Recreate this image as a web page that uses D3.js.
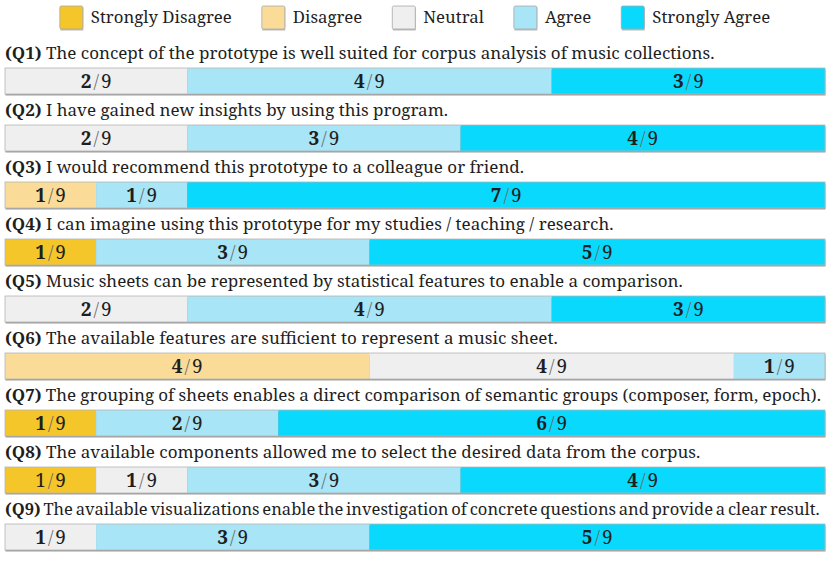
<!DOCTYPE html>
<html>
<head>
<meta charset="utf-8">
<script src="https://cdn.jsdelivr.net/npm/d3@7"></script>
<style>
  body { margin: 0; background: #fff; }
</style>
</head>
<body>
<svg id="chart" width="830" height="566"></svg>
<script>
const levels = ["Strongly Disagree", "Disagree", "Neutral", "Agree", "Strongly Agree"];
const levelColors = ["#f5c62a", "#fadc98", "#efefef", "#a8e5f6", "#08d9fd"];

const questionIds = ["Q1", "Q2", "Q3", "Q4", "Q5", "Q6", "Q7", "Q8", "Q9"];
const questionTexts = [
  "The concept of the prototype is well suited for corpus analysis of music collections.",
  "I have gained new insights by using this program.",
  "I would recommend this prototype to a colleague or friend.",
  "I can imagine using this prototype for my studies / teaching / research.",
  "Music sheets can be represented by statistical features to enable a comparison.",
  "The available features are sufficient to represent a music sheet.",
  "The grouping of sheets enables a direct comparison of semantic groups (composer, form, epoch).",
  "The available components allowed me to select the desired data from the corpus.",
  "The available visualizations enable the investigation of concrete questions and provide a clear result."
];

const stronglyDisagree = [0, 0, 0, 1, 0, 0, 1, 1, 0];
const disagree         = [0, 0, 1, 0, 0, 4, 0, 0, 0];
const neutral          = [2, 2, 0, 0, 2, 4, 0, 1, 1];
const agree            = [4, 3, 1, 3, 4, 1, 2, 3, 3];
const stronglyAgree    = [3, 4, 7, 5, 3, 0, 6, 4, 5];
const respondents = 9;

// segments whose count is printed without bold
const plainLabels = [["Q8", "Strongly Disagree"]];

const series = [stronglyDisagree, disagree, neutral, agree, stronglyAgree];

const width = 830;
const svg = d3.select("#chart")
  .attr("font-family", "'Noto Serif', 'DejaVu Serif', serif")
  .attr("fill", "#1e1e1e");

const x = d3.scaleLinear().domain([0, respondents]).range([5, 825]);
const y = d3.scaleBand().domain(questionIds).range([40, 40 + 57 * questionIds.length]);
const color = d3.scaleOrdinal().domain(levels).range(levelColors);

const barTop = 28, barH = 26;

// legend
const legend = svg.append("g");
let lx = 0;
levels.forEach(function (name) {
  const g = legend.append("g").attr("transform", `translate(${lx},0)`);
  g.append("rect")
    .attr("x", 0.5).attr("y", 7.5)
    .attr("width", 23).attr("height", 23)
    .attr("fill", "#bbb");
  g.append("rect")
    .attr("x", 0).attr("y", 6)
    .attr("width", 23).attr("height", 23)
    .attr("rx", 1.5)
    .attr("fill", color(name))
    .attr("stroke", "#a8a8a8").attr("stroke-width", 0.8);
  const t = g.append("text")
    .attr("x", 31).attr("y", 23)
    .attr("font-size", 16.8)
    .text(name);
  lx += 31 + t.node().getComputedTextLength() + 30;
});
lx -= 30;
legend.attr("transform", `translate(${(width - lx) / 2},0)`);

const rows = svg.selectAll("g.row")
  .data(questionIds)
  .join("g")
  .attr("class", "row")
  .attr("transform", d => `translate(0,${y(d)})`);

// question titles; long ones get tighter word spacing, then a smaller size if still too wide
rows.each(function (id, i) {
  const t = d3.select(this).append("text")
    .attr("x", 5).attr("y", 19)
    .attr("font-size", 17);
  t.append("tspan").attr("font-weight", "bold").text(`(${id})`);
  t.append("tspan").text(" " + questionTexts[i]);
  const maxW = 816;
  let len = t.node().getComputedTextLength();
  if (len > maxW) {
    const spaces = questionTexts[i].split(" ").length;
    const ws = Math.max(-1.5, (maxW - len) / spaces);
    t.attr("word-spacing", ws);
    len = t.node().getComputedTextLength();
    if (len > maxW) t.attr("font-size", 17 * maxW / len);
  }
});

// bars
rows.each(function (id, i) {
  const row = d3.select(this);
  let start = 0;
  const segs = [];
  series.forEach(function (vals, k) {
    if (vals[i] > 0) segs.push({ level: levels[k], v: vals[i], x0: start, x1: start + vals[i] });
    start += vals[i];
  });

  row.append("rect")
    .attr("x", x(0) + 0.5).attr("y", barTop + 1.5)
    .attr("width", x(respondents) - x(0)).attr("height", barH)
    .attr("fill", "#9d9d9d");

  row.selectAll("rect.seg")
    .data(segs)
    .join("rect")
    .attr("class", "seg")
    .attr("x", d => x(d.x0))
    .attr("y", barTop)
    .attr("width", d => x(d.x1) - x(d.x0))
    .attr("height", barH)
    .attr("fill", d => color(d.level));

  row.append("rect")
    .attr("x", x(0)).attr("y", barTop)
    .attr("width", x(respondents) - x(0)).attr("height", barH)
    .attr("fill", "none")
    .attr("stroke", "#b4b4b4").attr("stroke-width", 0.8);

  const lbl = row.selectAll("text.frac")
    .data(segs)
    .join("text")
    .attr("class", "frac")
    .attr("x", d => (x(d.x0) + x(d.x1)) / 2)
    .attr("y", barTop + barH / 2 + 7)
    .attr("text-anchor", "middle")
    .attr("font-size", 19);
  lbl.append("tspan")
    .attr("font-weight", d => plainLabels.some(p => p[0] === id && p[1] === d.level) ? "normal" : "bold")
    .text(d => d.v);
  lbl.append("tspan").attr("dx", 2).attr("fill", "#666").attr("font-weight", "300").text("/");
  lbl.append("tspan").attr("dx", 2).text(respondents);
});
</script>
</body>
</html>
